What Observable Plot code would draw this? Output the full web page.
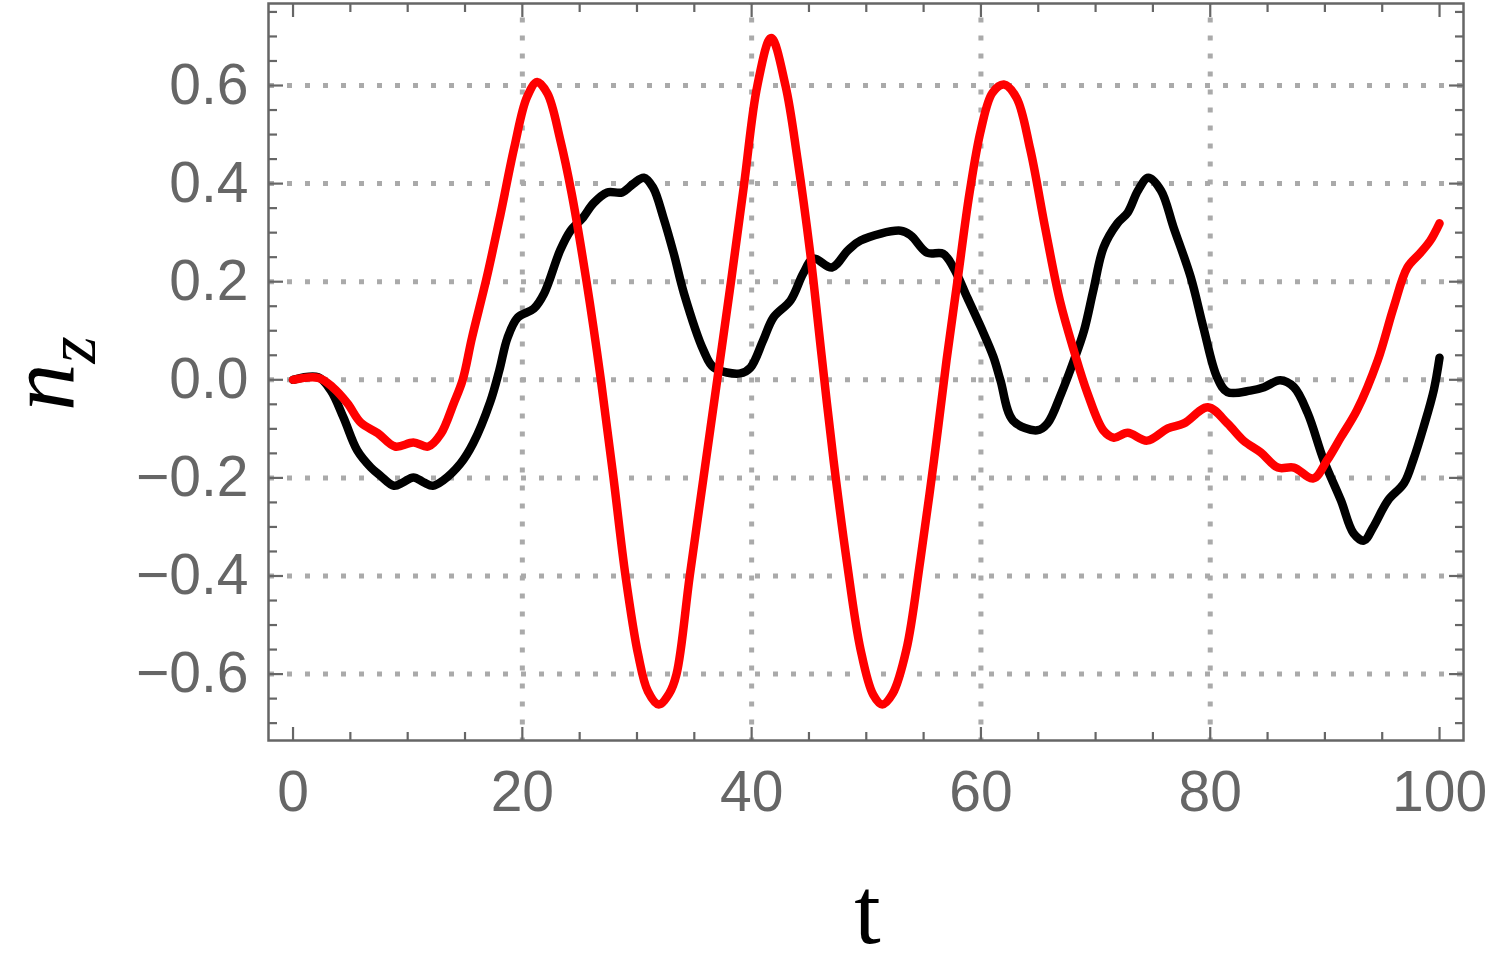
<!DOCTYPE html>
<html><head><meta charset="utf-8">
<script src="https://cdn.jsdelivr.net/npm/d3@7"></script>
<script src="https://cdn.jsdelivr.net/npm/@observablehq/plot@0.6"></script>
<style>body{margin:0;background:#fff;}</style>
</head><body><div id="chart"></div>
<script>
// black curve n_z(t)
const tBlack  = [0, 2.2, 3.3, 4.4, 5.6, 6.8, 7.6, 8.8, 9.6, 10.5, 11.4, 12.2, 13.1, 14.6, 15.7, 17.2, 18.0, 18.7, 19.6, 21.0, 21.9, 23.3, 24.2, 25.3, 26.2, 27.4, 28.7, 29.7, 30.6, 31.4, 32.3, 33.2, 34.1, 35.8, 36.7, 39.0, 39.9, 41.0, 41.9, 43.4, 44.5, 45.4, 47.0, 48.4, 49.5, 53.0, 53.9, 55.3, 56.7, 57.6, 58.8, 60.0, 61.1, 61.7, 62.8, 64.9, 65.8, 67.0, 68.1, 69.0, 69.8, 70.7, 71.9, 72.8, 73.7, 74.6, 75.7, 76.8, 78.3, 79.4, 80.6, 81.5, 83.5, 84.7, 86.1, 87.3, 88.5, 89.9, 91.4, 92.5, 93.4, 94.2, 95.5, 96.9, 97.7, 98.6, 99.5, 100];
const nzBlack = [0, 0.005, -0.022, -0.077, -0.144, -0.179, -0.195, -0.216, -0.209, -0.199, -0.209, -0.216, -0.205, -0.171, -0.130, -0.045, 0.020, 0.085, 0.127, 0.145, 0.176, 0.264, 0.304, 0.331, 0.360, 0.382, 0.382, 0.400, 0.412, 0.392, 0.331, 0.258, 0.176, 0.060, 0.025, 0.013, 0.025, 0.080, 0.127, 0.162, 0.217, 0.247, 0.229, 0.264, 0.284, 0.304, 0.294, 0.259, 0.257, 0.229, 0.168, 0.107, 0.046, -0.001, -0.083, -0.103, -0.089, -0.028, 0.039, 0.101, 0.182, 0.270, 0.319, 0.341, 0.386, 0.412, 0.386, 0.311, 0.209, 0.107, 0.005, -0.025, -0.022, -0.015, -0.001, -0.015, -0.068, -0.164, -0.246, -0.313, -0.328, -0.301, -0.246, -0.211, -0.164, -0.097, -0.021, 0.045];

// red curve n_z(t)
const tRed  = [0, 2.2, 3.5, 4.75, 5.9, 7.4, 8.9, 10.5, 11.8, 12.9, 14.0, 14.8, 15.6, 16.9, 18.1, 19.3, 20.4, 21.3, 22.2, 23.3, 24.3, 25.6, 26.85, 27.95, 29.0, 30.1, 30.95, 31.9, 32.8, 33.45, 34.6, 35.8, 37.0, 38.2, 39.35, 40.5, 41.7, 42.95, 44.0, 45.1, 46.1, 47.15, 48.3, 49.5, 50.6, 51.4, 52.3, 53.5, 54.7, 55.9, 57.0, 58.0, 59.0, 60.0, 61.0, 62.0, 63.1, 64.3, 65.6, 66.9, 68.1, 69.3, 70.7, 71.6, 72.8, 74.5, 76.3, 77.7, 79.8, 81.5, 82.9, 84.4, 85.9, 87.3, 89.0, 90.2, 91.4, 92.8, 94.6, 96.0, 97.2, 98.3, 99.2, 100];
const nzRed = [0, 0.004, -0.016, -0.048, -0.087, -0.109, -0.136, -0.128, -0.136, -0.110, -0.049, 0.0, 0.085, 0.209, 0.338, 0.474, 0.576, 0.607, 0.583, 0.49, 0.38, 0.2, 0.0, -0.2, -0.4, -0.56, -0.635, -0.662, -0.64, -0.6, -0.4, -0.2, 0.0, 0.2, 0.4, 0.6, 0.697, 0.6, 0.45, 0.26, 0.05, -0.165, -0.37, -0.55, -0.642, -0.662, -0.64, -0.55, -0.37, -0.165, 0.04, 0.21, 0.38, 0.51, 0.585, 0.602, 0.575, 0.47, 0.31, 0.16, 0.06, -0.028, -0.104, -0.118, -0.108, -0.124, -0.099, -0.089, -0.056, -0.089, -0.124, -0.148, -0.179, -0.179, -0.201, -0.164, -0.117, -0.062, 0.039, 0.148, 0.229, 0.258, 0.284, 0.319];

const xMajor = [0, 20, 40, 60, 80, 100];
const xMinor = [5, 10, 15, 25, 30, 35, 45, 50, 55, 65, 70, 75, 85, 90, 95];
const xGrid = [20, 40, 60, 80];
const yMajor = [-0.6, -0.4, -0.2, 0, 0.2, 0.4, 0.6];
const yMinor = [-0.7, -0.65, -0.55, -0.5, -0.45, -0.35, -0.3, -0.25, -0.15, -0.1, -0.05, 0.05, 0.1, 0.15, 0.25, 0.3, 0.35, 0.45, 0.5, 0.55, 0.65, 0.7, 0.75];
const xLabel = "t";
const yLabel = "n";
const yLabelSub = "z";

const black = tBlack.map((t, i) => ({t, nz: nzBlack[i]}));
const red = tRed.map((t, i) => ({t, nz: nzRed[i]}));

const W = 1495, H = 975, mL = 268, mR = 32, mT = 3, mB = 235;
const tickCol = "#666666";
const gridStyle = {stroke: "#aaaaaa", strokeOpacity: 1, strokeWidth: 5, strokeDasharray: "5,13"};
const tickStyle = {stroke: tickCol, strokeWidth: 2.2, strokeOpacity: 1, fill: "none", label: null};

const chart = Plot.plot({
  width: W, height: H,
  marginLeft: mL, marginRight: mR, marginTop: mT, marginBottom: mB,
  x: {domain: [-2.14, 102.09], label: null},
  y: {domain: [-0.7354, 0.7672], label: null},
  style: {fontFamily: "'Liberation Sans', Arial, sans-serif", background: "white", overflow: "visible"},
  marks: [
    Plot.gridY(yMajor, {...gridStyle, strokeDashoffset: -1}),
    Plot.gridX(xGrid, {...gridStyle, strokeDashoffset: 3.5}),
    Plot.line(black, {x: "t", y: "nz", stroke: "#000000", strokeWidth: 8.5, curve: "catmull-rom"}),
    Plot.line(red, {x: "t", y: "nz", stroke: "#ff0000", strokeWidth: 8.5, curve: "catmull-rom"}),
    Plot.frame({stroke: tickCol, strokeWidth: 2.5}),
    Plot.axisX(xMajor, {anchor: "bottom", tickSize: -13, ...tickStyle}),
    Plot.axisX(xMinor, {anchor: "bottom", tickSize: -8, ...tickStyle}),
    Plot.axisX(xMajor, {anchor: "top", tickSize: -13, ...tickStyle}),
    Plot.axisX(xMinor, {anchor: "top", tickSize: -8, ...tickStyle}),
    Plot.axisY(yMajor, {anchor: "left", tickSize: -15, ...tickStyle}),
    Plot.axisY(yMinor, {anchor: "left", tickSize: -9, ...tickStyle}),
    Plot.axisY(yMajor, {anchor: "right", tickSize: -15, ...tickStyle}),
    Plot.axisY(yMinor, {anchor: "right", tickSize: -9, ...tickStyle}),
    Plot.axisX(xMajor, {anchor: "bottom", tickSize: 0, tickPadding: 30, fontSize: 57, fill: tickCol, stroke: "none", label: null}),
    Plot.axisY(yMajor, {anchor: "left", tickSize: 0, tickPadding: 20, fontSize: 57, fill: tickCol, stroke: "none", label: null, tickFormat: d3.format(".1f")})
  ]
});

const svg = d3.select(chart);
svg.append("text")
  .attr("x", (mL + W - mR) / 2 + 2)
  .attr("y", 943)
  .attr("text-anchor", "middle")
  .attr("font-family", "'Liberation Serif', 'Times New Roman', serif")
  .attr("font-size", 95)
  .attr("fill", "#000")
  .text(xLabel);

const yl = svg.append("text")
  .attr("transform", `translate(74,${(mT + H - mB) / 2 + 2}) rotate(-90)`)
  .attr("text-anchor", "middle")
  .attr("font-family", "'Liberation Serif', 'Times New Roman', serif")
  .attr("font-style", "italic")
  .attr("font-size", 95)
  .attr("fill", "#000");
yl.append("tspan").text(yLabel);
yl.append("tspan").attr("font-size", 70).attr("dy", 21).text(yLabelSub);

document.getElementById("chart").appendChild(chart);
</script>
</body></html>
